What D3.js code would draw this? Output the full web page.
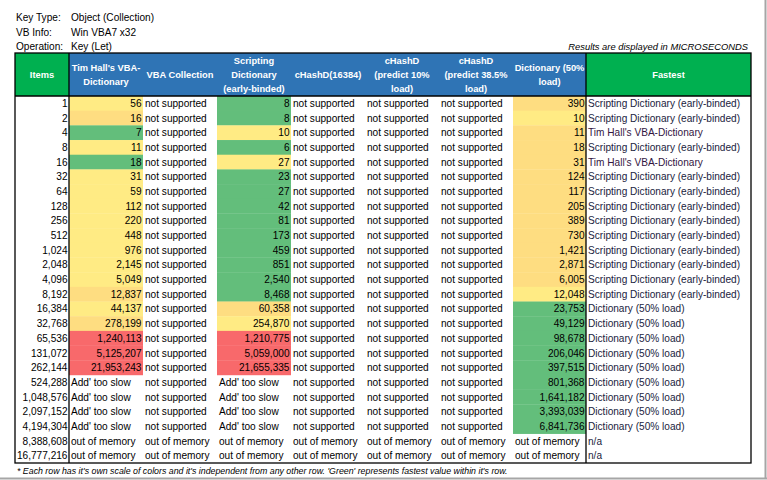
<!DOCTYPE html>
<html>
<head>
<meta charset="utf-8">
<script src="https://cdn.jsdelivr.net/npm/d3@7"></script>
<style>
  html, body { margin: 0; padding: 0; background: #fff; }
  svg { display: block; font-family: "Liberation Sans", Arial, sans-serif; }
</style>
</head>
<body>
<svg id="chart" width="767" height="480"></svg>
<script>
// ---------------- DATA ----------------
const infoLabels = ["Key Type:", "VB Info:", "Operation:"];
const infoValues = ["Object (Collection)", "Win VBA7 x32", "Key (Let)"];

const items = [1, 2, 4, 8, 16, 32, 64, 128, 256, 512, 1024, 2048, 4096, 8192, 16384, 32768,
  65536, 131072, 262144, 524288, 1048576, 2097152, 4194304, 8388608, 16777216];

const SLOW = "Add' too slow", NS = "not supported", OOM = "out of memory";

const timHall = [56, 16, 7, 11, 18, 31, 59, 112, 220, 448, 976, 2145, 5049, 12837, 44137, 278199,
  1240113, 5125207, 21953243, SLOW, SLOW, SLOW, SLOW, OOM, OOM];
const vbaCollection = [NS, NS, NS, NS, NS, NS, NS, NS, NS, NS, NS, NS, NS, NS, NS, NS,
  NS, NS, NS, NS, NS, NS, NS, OOM, OOM];
const scripting = [8, 8, 10, 6, 27, 23, 27, 42, 81, 173, 459, 851, 2540, 8468, 60358, 254870,
  1210775, 5059000, 21655335, SLOW, SLOW, SLOW, SLOW, OOM, OOM];
const cHashD16384 = vbaCollection.slice();
const cHashD10 = vbaCollection.slice();
const cHashD385 = vbaCollection.slice();
const dict50 = [390, 10, 11, 18, 31, 124, 117, 205, 389, 730, 1421, 2871, 6005, 12048, 23753, 49129,
  98678, 206046, 397515, 801368, 1641182, 3393039, 6841736, OOM, OOM];

const seriesNames = ["Tim Hall's VBA-Dictionary", "VBA Collection", "Scripting Dictionary (early-binded)",
  "cHashD(16384)", "cHashD (predict 10% load)", "cHashD (predict 38.5% load)", "Dictionary (50% load)"];
const seriesValues = [timHall, vbaCollection, scripting, cHashD16384, cHashD10, cHashD385, dict50];

const headerLines = [
  ["Items"],
  ["Tim Hall's VBA-", "Dictionary"],
  ["VBA Collection"],
  ["Scripting", "Dictionary", "(early-binded)"],
  ["cHashD(16384)"],
  ["cHashD", "(predict 10%", "load)"],
  ["cHashD", "(predict 38.5%", "load)"],
  ["Dictionary (50%", "load)"],
  ["Fastest"]
];

const noteText = "Results are displayed in MICROSECONDS";
const footText = "* Each row has it's own scale of colors and it's independent from any other row. 'Green' represents fastest value within it's row.";

// ---------------- LAYOUT / STYLE ----------------
const colEdges = [15, 69, 143, 217, 291, 365, 439, 513, 586, 751];
const headTop = 53, headBottom = 96, tableBottom = 463;
const FS = 10.1, HFS = 9.3;
const C = {
  green: "#63BE7B", yellow: "#FFEB84", orange: "#FEDD81", red: "#F8696B",
  headBlue: "#2F74B5", headGreen: "#00B050"
};

const svg = d3.select("#chart");
const fmt = d3.format(",");

// window frame
svg.append("line").attr("x1", 765.5).attr("x2", 765.5).attr("y1", 0).attr("y2", 479)
  .attr("stroke", "#a6a6a6").attr("stroke-width", 2);
svg.append("line").attr("x1", 0).attr("x2", 767).attr("y1", 478.5).attr("y2", 478.5)
  .attr("stroke", "#a6a6a6").attr("stroke-width", 2);

// info block
const infoY = d3.scalePoint().domain(infoLabels).range([21, 50]);
svg.append("g").selectAll("text").data(infoLabels).join("text")
  .attr("x", 16).attr("y", d => infoY(d)).attr("font-size", FS).text(d => d);
svg.append("g").selectAll("text").data(infoValues).join("text")
  .attr("x", 71).attr("y", (d, i) => infoY(infoLabels[i])).attr("font-size", FS).text(d => d);

svg.append("text").attr("x", 748).attr("y", 49.5).attr("text-anchor", "end")
  .attr("font-size", 9.4).attr("font-style", "italic").text(noteText);

// scales
const y = d3.scaleBand().domain(items.map(String)).range([headBottom, tableBottom]).padding(0);
const colIdx = d3.range(colEdges.length - 1);
const xL = d3.scaleOrdinal().domain(colIdx).range(colEdges.slice(0, -1));
const xR = d3.scaleOrdinal().domain(colIdx).range(colEdges.slice(1));

// header
const hdr = svg.append("g");
hdr.selectAll("rect").data(headerLines).join("rect")
  .attr("x", (d, i) => xL(i)).attr("y", headTop)
  .attr("width", (d, i) => xR(i) - xL(i)).attr("height", headBottom - headTop)
  .attr("fill", (d, i) => (i === 0 || i === headerLines.length - 1) ? C.headGreen : C.headBlue);
hdr.selectAll("text").data(headerLines).join("text")
  .attr("text-anchor", "middle").attr("font-weight", "bold").attr("font-size", HFS).attr("fill", "#fff")
  .each(function(lines, i) {
    const cx = (xL(i) + xR(i)) / 2;
    const cy = (headTop + headBottom) / 2;
    const lh = 13.6;
    d3.select(this).selectAll("tspan").data(lines).join("tspan")
      .attr("x", cx)
      .attr("y", (l, j) => cy + (j - (lines.length - 1) / 2) * lh + 3.4)
      .text(l => l);
  });

// cell colour rule (per row)
function cellFill(v, rowNums) {
  if (typeof v !== "number") return null;
  const mn = d3.min(rowNums), mx = d3.max(rowNums);
  if (v === mn) return C.green;
  if (v >= 1e6) return C.red;
  if (v === mx) return C.orange;
  return C.yellow;
}

// rows
const rows = items.map((it, r) => {
  const vals = seriesValues.map(s => s[r]);
  const nums = vals.filter(v => typeof v === "number");
  let fastest = "n/a";
  if (nums.length) {
    const mn = d3.min(nums);
    fastest = seriesNames[vals.indexOf(mn)];
  }
  return { item: it, vals, nums, fastest };
});

const body = svg.append("g");
rows.forEach(row => {
  const yy = y(String(row.item)), h = y.bandwidth();
  const g = body.append("g");
  row.vals.forEach((v, k) => {
    const ci = k + 1;
    const fill = cellFill(v, row.nums);
    if (fill) {
      g.append("rect").attr("x", xL(ci)).attr("y", yy).attr("width", xR(ci) - xL(ci)).attr("height", h + 0.3)
        .attr("fill", fill);
    }
    const t = g.append("text").attr("y", yy + h / 2 + 3.6).attr("font-size", FS).attr("fill", "#000");
    if (typeof v === "number") {
      t.attr("x", xR(ci) - 1.5).attr("text-anchor", "end").text(fmt(v));
    } else {
      t.attr("x", xL(ci) + 2).text(v);
    }
  });
  g.append("text").attr("x", xR(0) - 1.5).attr("y", yy + h / 2 + 3.6).attr("text-anchor", "end")
    .attr("font-size", FS).text(fmt(row.item));
  g.append("text").attr("x", xL(8) + 2).attr("y", yy + h / 2 + 3.6).attr("font-size", FS)
    .attr("fill", row.fastest === seriesNames[0] ? "#33163f" : "#1a2340").text(row.fastest);
});

// borders
const b = svg.append("g").attr("stroke", "#000").attr("fill", "none").attr("stroke-width", 1.3);
b.append("rect").attr("x", colEdges[0]).attr("y", headTop)
  .attr("width", colEdges[colEdges.length - 1] - colEdges[0]).attr("height", tableBottom - headTop);
b.append("line").attr("x1", colEdges[0]).attr("x2", colEdges[colEdges.length - 1])
  .attr("y1", headBottom).attr("y2", headBottom);
[1, 8].forEach(i => b.append("line").attr("x1", colEdges[i]).attr("x2", colEdges[i])
  .attr("y1", headTop).attr("y2", tableBottom));

// footnote
svg.append("text").attr("x", 17).attr("y", 474).attr("font-size", 8.8).attr("font-style", "italic")
  .text(footText);
</script>
</body>
</html>
